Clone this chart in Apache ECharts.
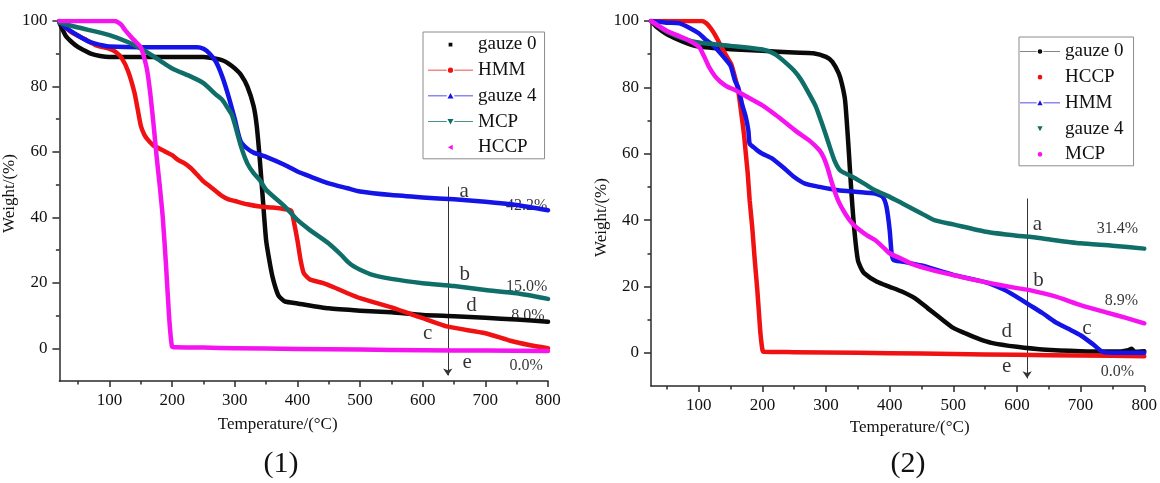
<!DOCTYPE html>
<html><head><meta charset="utf-8">
<script src="https://cdn.jsdelivr.net/npm/echarts@6/dist/echarts.min.js"></script>
<style>html,body{margin:0;padding:0;background:#fff}#c{width:1160px;height:483px}</style>
</head><body><div id="c"></div><script>
// ---------- tick values ----------
const xMajor = [100,200,300,400,500,600,700,800];
const xMinor = [50,150,250,350,450,550,650,750];
const yMajor = [0,20,40,60,80,100];
const yMinor = [10,30,50,70,90];

// ---------- panel (1) data: [temperature, weight%] ----------
const p1Gauze0 = [[20,99.5],[30,95.5],[40,93.5],[50,92],[60,91],[70,90],[85,89.3],[100,89],[150,89],[200,89],[250,89],[270,88.5],[280,88],[290,87],[300,85.5],[310,83.5],[320,80],[330,74],[335,68],[340,57.5],[345,45],[350,33],[355,27],[360,22],[365,18.5],[370,16],[375,15],[380,14.3],[400,13.7],[450,12.2],[500,11.5],[550,11],[600,10.2],[650,9.8],[700,9.3],[750,8.8],[800,8.1]];
const p1HMM = [[20,100],[30,98],[40,96.5],[60,94.5],[80,92.5],[100,91.5],[110,90.5],[120,88.5],[130,84.5],[140,78],[145,73],[150,68],[155,65.5],[160,64],[170,62],[180,61],[190,60],[200,59],[210,57.5],[220,56.5],[230,55],[240,53],[250,51],[260,49.5],[270,48],[280,46.5],[290,45.5],[300,45],[320,44],[340,43.3],[360,43],[380,42.5],[390,42],[395,38],[400,33],[405,27],[410,23],[420,21],[440,20],[460,18.5],[480,16.8],[500,15.3],[550,12.5],[580,10.5],[600,9.2],[640,6.6],[700,4.6],[740,2.3],[770,1],[800,0]];
const p1Gauze4 = [[20,100],[30,98],[50,95.5],[70,93.5],[90,92.5],[100,92.2],[150,92],[200,92],[240,92],[250,91.5],[260,90],[270,87.5],[280,83],[290,77],[300,70],[305,66],[310,63],[320,61],[330,59.8],[350,58.5],[380,56],[400,54],[420,52.5],[450,50.4],[480,48.9],[500,47.9],[550,46.8],[600,46.1],[650,45.5],[700,44.8],[750,43.8],[800,42.2]];
const p1MCP = [[20,99.5],[50,98],[100,95.7],[130,93.5],[150,91.6],[180,88],[200,85.5],[230,83],[250,81],[270,77.5],[280,75.9],[290,73],[295,71.5],[300,68.5],[310,61.6],[320,56.5],[330,53.5],[340,51.4],[350,48.4],[380,43.3],[400,39.2],[420,36.1],[450,32],[470,28.5],[480,26.5],[490,25],[500,24],[520,22.4],[550,21.2],[600,19.9],[650,19],[700,17.8],[750,16.8],[800,15.1]];
const p1HCCP = [[20,100],[108,100],[118,99],[125,97.2],[135,95],[145,93],[150,92],[155,89],[160,85],[165,78],[170,69],[175,59],[180,50],[185,40],[190,26],[195,10],[198,3],[200,0.5],[205,0.3],[250,0.2],[300,0],[400,-0.2],[500,-0.4],[600,-0.6],[700,-0.7],[800,-0.8]];

// ---------- panel (2) data ----------
const p2Gauze0 = [[25,100],[35,98],[50,96],[75,93.8],[100,92.3],[150,91.5],[200,91],[250,90.5],[280,90.3],[300,89.2],[310,87.7],[320,84.2],[325,81],[330,76],[335,63],[340,48],[345,36],[350,28],[355,25.5],[360,24],[380,21.4],[400,19.9],[420,18.4],[440,16.4],[460,13.4],[480,10.4],[500,7.5],[520,5.8],[540,4.2],[560,3],[600,1.8],[640,1],[700,0.5],[760,0.4],[775,0.8],[780,1.2],[785,0.3],[800,0.5]];
const p2HCCP = [[25,100],[105,100],[112,99.3],[120,97.5],[128,95],[136,92],[145,89],[151,87],[157,83],[162,79],[167,72],[171,66],[174,60],[177,54],[180,46],[184,38],[188,28],[192,19],[195,11],[197,5.8],[200,1],[202,0.3],[250,0.2],[350,0],[450,-0.2],[550,-0.5],[650,-0.7],[750,-0.9],[800,-1]];
const p2HMM = [[25,100],[50,99.5],[70,99.3],[85,98],[100,96.3],[110,94.5],[122,92.8],[139,89.2],[150,86.5],[157,82],[162,80],[168,75],[174,71],[178,67],[180,63],[186,62],[192,61],[200,60],[215,58.6],[232,56],[250,53],[267,51],[290,50],[319,49],[350,48.5],[377,48],[389,47],[395,44],[400,37],[403,30],[406,28],[420,27.5],[450,26.3],[500,23.5],[550,21.3],[580,19],[600,16.8],[620,14.4],[640,12],[660,9.3],[680,7.3],[700,5.3],[720,2.5],[735,0.3],[760,0],[800,0]];
const p2Gauze4 = [[25,100],[40,98],[50,96.8],[75,94.8],[100,93.5],[150,92.5],[203,91.3],[220,90],[232,88.2],[250,85],[261,82.2],[275,77.5],[284,74.2],[292,70],[299,66.1],[306,62],[313,58.1],[320,55.5],[325,54.6],[342,53],[360,51],[377,49],[400,47],[420,45],[435,43.5],[450,42],[470,40],[500,38.7],[551,36.5],[600,35.3],[620,35],[650,34.2],[700,33],[750,32.3],[800,31.4]];
const p2MCP = [[25,100],[50,97],[75,95],[100,92.3],[108,89.5],[116,86.2],[125,83.5],[134,81.7],[145,80.2],[157,79.2],[180,76.7],[203,74.2],[220,71.8],[238,69.1],[255,66.5],[273,64.1],[290,61],[296,59],[302,56],[308,52],[313,49],[320,45.5],[330,42],[340,39.3],[353,37],[365,35.3],[377,34],[390,31.8],[400,30],[420,28.2],[435,26.8],[460,25.3],[500,23.4],[550,21.3],[600,19.5],[620,18.9],[660,17],[700,14.4],[740,12.2],[770,10.6],[800,8.9]];

// ---------- annotations: [temperature, weight, text] ----------
const p1Letters = [[666,47.9,'a'],[667,22.5,'b'],[608,4.6,'c'],[678,13,'d'],[671,-4.3,'e']];
const p1Percents = [[766,43.5,'42.2%'],[766,18.8,'15.0%'],[768,9.9,'8.0%'],[765,-5.5,'0.0%']];
const p1Arrow = [640, 49.4, -8.3];
const p2Letters = [[632,38.8,'a'],[634,21.9,'b'],[710,7.4,'c'],[584,6.5,'d'],[584,-4.2,'e']];
const p2Percents = [[758,37.3,'31.4%'],[764,15.6,'8.9%'],[758,-5.8,'0.0%']];
const p2Arrow = [616, 46.5, -7.7];

// ---------- styles ----------
const FONT = "'Liberation Serif','Times New Roman',serif";
const TXT = '#111';
const C = {black:'#0a0a0a', red:'#f01212', blue:'#1414e8', teal:'#0f6f68', mag:'#f514f0'};

function iconPath(shape, withLine){
  const pad = 'M0,0 L0.02,0 L0,0.02 Z M60,12 L59.98,12 L60,11.98 Z ';
  const line = withLine ? 'M0,5.5 L25,5.5 L25,6.5 L0,6.5 Z M35,5.5 L60,5.5 L60,6.5 L35,6.5 Z ' : '';
  const shapes = {
    square: 'M27.5,3.5 L32.5,3.5 L32.5,8.5 L27.5,8.5 Z',
    circle: 'M26.5,6 A3.5,3.5 0 1,1 33.5,6 A3.5,3.5 0 1,1 26.5,6 Z',
    up: 'M30,2 L34,9.5 L26,9.5 Z',
    down: 'M26,2.5 L34,2.5 L30,10 Z',
    left: 'M26.5,6 L33,2.5 L33,9.5 Z'
  };
  return 'path://' + pad + line + shapes[shape];
}

const panels = [
  { xMin:20, grid:{left:59, top:21, width:489, height:360},
    series:[
      {name:'gauze 0', data:p1Gauze0, color:C.black, icon:'square', line:false},
      {name:'HMM', data:p1HMM, color:C.red, icon:'circle', line:true},
      {name:'gauze 4', data:p1Gauze4, color:C.blue, icon:'up', line:true},
      {name:'MCP', data:p1MCP, color:C.teal, icon:'down', line:true},
      {name:'HCCP', data:p1HCCP, color:C.mag, icon:'left', line:false}
    ],
    letters:p1Letters, percents:p1Percents, arrow:p1Arrow,
    legend:{left:423, top:32, padding:[3,8,2,5], itemWidth:45, itemHeight:9},
    xNamePad:[0,52,0,0], yNamePad:[0,0,0,15], xNameGap:35, yNameGap:26, label:'(1)', labelX:281
  },
  { xMin:25, grid:{left:651, top:21, width:495, height:365},
    series:[
      {name:'gauze 0', data:p2Gauze0, color:C.black, icon:'circle', line:true},
      {name:'HCCP', data:p2HCCP, color:C.red, icon:'circle', line:false},
      {name:'HMM', data:p2HMM, color:C.blue, icon:'up', line:true},
      {name:'gauze 4', data:p2Gauze4, color:C.teal, icon:'down', line:false},
      {name:'MCP', data:p2MCP, color:C.mag, icon:'circle', line:false}
    ],
    letters:p2Letters, percents:p2Percents, arrow:p2Arrow,
    legend:{left:1019, top:37, padding:[5,10,2,1], itemWidth:40, itemHeight:8},
    xNamePad:[0,0,0,24], yNamePad:[0,28,0,0], xNameGap:30, yNameGap:27, label:'(2)', labelX:908
  }
];

const axisLineStyle = {color:'#2a2a2a', width:1.5};
const option = {
  backgroundColor:'#fff', animation:false,
  grid:[], xAxis:[], yAxis:[], series:[], legend:[], title:[]
};

panels.forEach((p, i) => {
  option.grid.push(Object.assign({containLabel:false}, p.grid));
  option.xAxis.push({
    gridIndex:i, type:'value', min:p.xMin, max:800, position:'bottom',
    axisLine:{show:true, onZero:false, lineStyle:axisLineStyle},
    axisTick:{show:true, length:6, customValues:xMajor, lineStyle:axisLineStyle},
    axisLabel:{customValues:xMajor, fontFamily:FONT, fontSize:17, color:TXT, margin:11},
    splitLine:{show:false},
    name:'Temperature/(°C)', nameLocation:'middle', nameGap:p.xNameGap,
    nameTextStyle:{fontFamily:FONT, fontSize:17, color:TXT, padding:p.xNamePad}
  });
  option.yAxis.push({
    gridIndex:i, type:'value', min:-10, max:100, position:'left',
    axisLine:{show:true, onZero:false, lineStyle:axisLineStyle},
    axisTick:{show:true, length:7, customValues:yMajor, lineStyle:axisLineStyle},
    axisLabel:{customValues:yMajor, fontFamily:FONT, fontSize:17, color:TXT, margin:12},
    splitLine:{show:false},
    name:'Weight/(%)', nameLocation:'middle', nameGap:p.yNameGap, nameRotate:90,
    nameTextStyle:{fontFamily:FONT, fontSize:17, color:TXT, padding:p.yNamePad}
  });
  p.series.forEach(s => {
    option.series.push({
      type:'line', name:s.name, xAxisIndex:i, yAxisIndex:i, data:s.data,
      showSymbol:false, symbol:'none', smooth:0.2,
      lineStyle:{width:4.5, color:s.color, join:'round', cap:'round'}, itemStyle:{color:s.color},
      z:3, silent:true, emphasis:{disabled:true}
    });
  });
  const ann = p.letters.map(a => ({value:[a[0],a[1]], name:a[2], label:{fontSize:21}}))
    .concat(p.percents.map(a => ({value:[a[0],a[1]], name:a[2], label:{fontSize:16}})));
  option.series.push({
    type:'scatter', xAxisIndex:i, yAxisIndex:i, data:ann, symbolSize:1, z:1, silent:true,
    itemStyle:{color:'rgba(255,255,255,0)'},
    label:{show:true, position:'inside', formatter:'{b}', fontFamily:FONT, color:'#000', textBorderWidth:0},
    markLine:{
      silent:true, symbol:['none','arrow'], symbolSize:7, z:2,
      lineStyle:{color:'#333', width:1, type:'solid'}, label:{show:false},
      data:[[{coord:[p.arrow[0], p.arrow[1]]},{coord:[p.arrow[0], p.arrow[2]]}]]
    }
  });
  option.legend.push(Object.assign({
    orient:'vertical', itemGap:6.7, borderColor:'#8c8c8c', borderWidth:1,
    selectedMode:false, symbolKeepAspect:false,
    textStyle:{fontFamily:FONT, fontSize:19, color:TXT, lineHeight:19},
    itemStyle:{borderWidth:0},
    data:p.series.map(s => ({name:s.name, icon:iconPath(s.icon, s.line), itemStyle:{color:s.color}}))
  }, p.legend));
  option.title.push({
    text:p.label, left:p.labelX, top:449, textAlign:'center', padding:0,
    textStyle:{fontFamily:FONT, fontSize:30, fontWeight:'normal', color:TXT}
  });
});

// minor tick overlay axes
panels.forEach((p, i) => {
  option.xAxis.push({
    gridIndex:i, type:'value', min:p.xMin, max:800, position:'bottom',
    axisLine:{show:false, onZero:false}, axisLabel:{show:false}, splitLine:{show:false},
    axisTick:{show:true, length:3.5, customValues:xMinor, lineStyle:axisLineStyle}
  });
  option.yAxis.push({
    gridIndex:i, type:'value', min:-10, max:100, position:'left',
    axisLine:{show:false, onZero:false}, axisLabel:{show:false}, splitLine:{show:false},
    axisTick:{show:true, length:3.5, customValues:yMinor, lineStyle:axisLineStyle}
  });
});

const chart = echarts.init(document.getElementById('c'), null, {renderer:'canvas'});
chart.setOption(option);
</script></body></html>
